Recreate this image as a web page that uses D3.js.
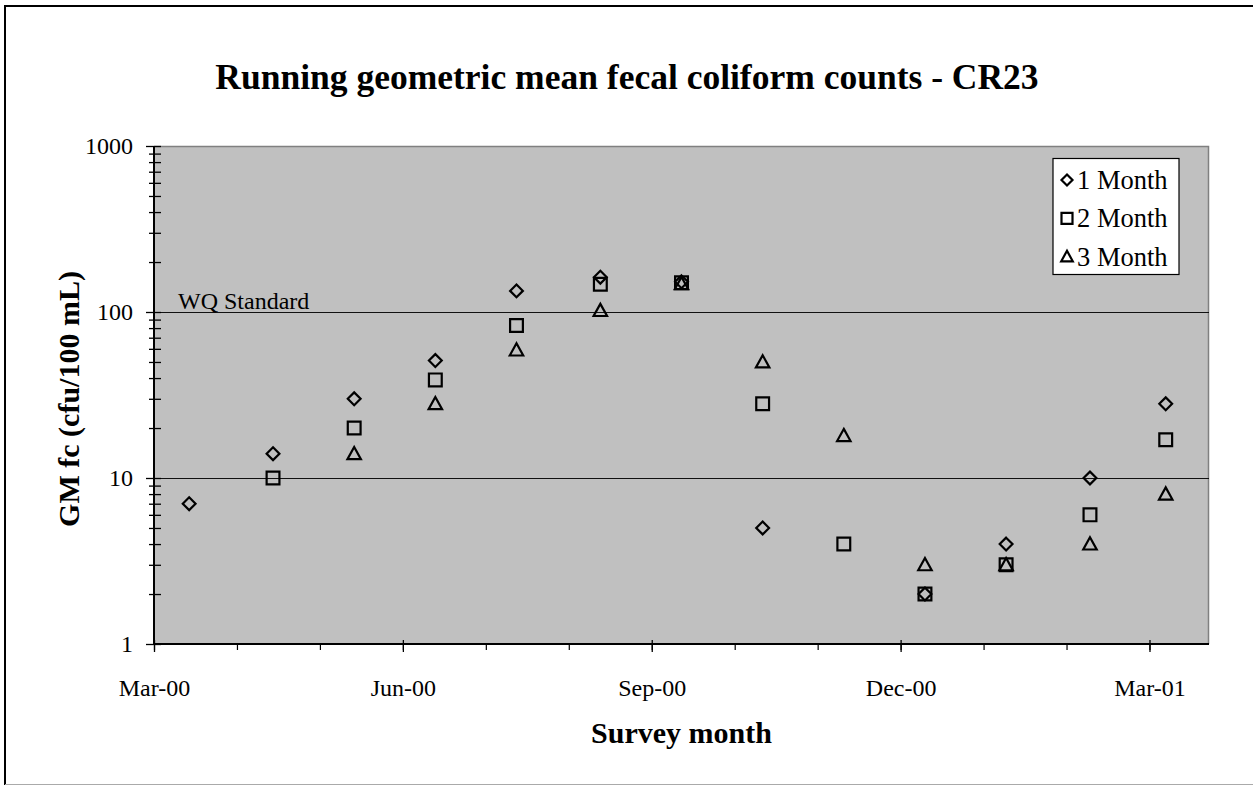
<!DOCTYPE html>
<html><head><meta charset="utf-8">
<script src="https://cdn.jsdelivr.net/npm/d3@7"></script>
<style>
html,body{margin:0;padding:0;background:#fff;}
svg text{font-family:"Liberation Serif","Times New Roman",serif;fill:#000;}
</style></head>
<body>
<svg id="chart" width="1254" height="786"></svg>
<script>
// ---- data ----
const sampleDates = ["2000-03-14","2000-04-14","2000-05-14","2000-06-13","2000-07-13","2000-08-13","2000-09-12","2000-10-12","2000-11-11","2000-12-11","2001-01-10","2001-02-10","2001-03-10"];
const oneMonth   = [7, 14, 30, 51, 134, 162, 152, 5, null, 2, 4, 10, 28];
const twoMonth   = [null, 10, 20, 39, 83, 147, 150, 28, 4, 2, 3, 6, 17];
const threeMonth = [null, null, 14, 28, 59, 102, 148, 50, 18, 3, 3, 4, 8];
const seriesNames = ["1 Month","2 Month","3 Month"];
const xTickLabels = ["Mar-00","Jun-00","Sep-00","Dec-00","Mar-01"];
const yTickValues = [1, 10, 100, 1000];
const gridValues = [10, 100];
const standardLabel = "WQ Standard";
const titleText = "Running geometric mean fecal coliform counts - CR23";
const xTitle = "Survey month";
const yTitle = "GM fc (cfu/100 mL)";

// ---- layout ----
const svg = d3.select("#chart");
const L = 154, R = 1209, T = 146, B = 644;
const parse = d3.utcParse("%Y-%m-%d");
const axisStart = parse("2000-03-01");
const majorDays = 92, minorDays = 92/3;
const addDays = (d, n) => new Date(d.getTime() + n*86400000);
const x = d3.scaleUtc().domain([axisStart, addDays(axisStart, 390)]).range([L, R]);
const y = d3.scaleLog().domain([1, 1000]).range([B, T]);

// chart border
svg.append("path").attr("d","M5,785 V6 H1253").attr("fill","none").attr("stroke","#000").attr("stroke-width",2);
svg.append("path").attr("d","M5,784.5 H1253").attr("fill","none").attr("stroke","#aaa").attr("stroke-width",1);

// plot area
svg.append("rect").attr("x",L).attr("y",T).attr("width",R-L).attr("height",B-T).attr("fill","#c0c0c0");
svg.append("path").attr("d",`M${L},${T+0.5} H${R-0.5} V${B}`).attr("fill","none").attr("stroke","#808080").attr("stroke-width",1.5);

// gridlines
svg.append("g").selectAll("line").data(gridValues).join("line")
  .attr("x1",L).attr("x2",R).attr("y1",d=>Math.round(y(d))+0.5).attr("y2",d=>Math.round(y(d))+0.5)
  .attr("stroke","#111").attr("stroke-width",1);

// WQ standard label
svg.append("text").attr("x",178).attr("y",y(100)-3).attr("font-size",24).text(standardLabel);

// y axis
const minorY = [];
[1,10,100].forEach(dec => { for (let k=2;k<=9;k++) minorY.push(dec*k); });
const yAxisG = svg.append("g").attr("transform",`translate(${L},0)`);
yAxisG.append("g").call(d3.axisLeft(y).tickValues(minorY).tickSize(5).tickFormat(""))
  .call(g=>g.select(".domain").remove())
  .call(g=>g.selectAll(".tick line").attr("x2",-5).attr("x1",7).attr("stroke","#000").attr("stroke-width",1.3));
yAxisG.append("g").call(d3.axisLeft(y).tickValues(yTickValues).tickSize(8).tickPadding(13).tickFormat(d3.format("d")))
  .call(g=>g.select(".domain").attr("stroke","#000").attr("stroke-width",2).attr("d",`M0,${B}V${T}`))
  .call(g=>g.selectAll(".tick line").attr("x1",7).attr("stroke","#000").attr("stroke-width",1.3))
  .call(g=>g.selectAll(".tick text").attr("font-family","Liberation Serif, serif").attr("font-size",24).attr("dy","0.33em"));

// x axis
const minorX = d3.range(0, 13).map(i => addDays(axisStart, i*minorDays));
const majorX = d3.range(0, xTickLabels.length).map(i => addDays(axisStart, i*majorDays));
const xAxisG = svg.append("g").attr("transform",`translate(0,${B})`);
xAxisG.append("g").call(d3.axisBottom(x).tickValues(minorX).tickSize(6).tickFormat(""))
  .call(g=>g.select(".domain").remove())
  .call(g=>g.selectAll(".tick line").attr("stroke","#000").attr("stroke-width",1.2));
xAxisG.append("g").call(d3.axisBottom(x).tickValues(majorX).tickSize(8).tickPadding(27)
    .tickFormat((d,i)=>xTickLabels[i]))
  .call(g=>g.select(".domain").attr("stroke","#000").attr("stroke-width",2).attr("d",`M${L},0H${R}`))
  .call(g=>g.selectAll(".tick line").attr("y1",-4).attr("stroke","#000").attr("stroke-width",1.3))
  .call(g=>g.selectAll(".tick text").attr("font-family","Liberation Serif, serif").attr("font-size",24));

// markers
const shapes = [
  s => `M0,${-s}L${s},0L0,${s}L${-s},0Z`,
  s => `M${-s},${-s}H${s}V${s}H${-s}Z`,
  s => `M0,${-s*1.05}L${s*1.05},${s*0.85}H${-s*1.05}Z`
];
const allSeries = [oneMonth, twoMonth, threeMonth];
allSeries.forEach((vals, si) => {
  const pts = sampleDates.map((d,i)=>({date:parse(d), v:vals[i]})).filter(p=>p.v!=null);
  svg.append("g").selectAll("path").data(pts).join("path")
    .attr("transform",p=>`translate(${x(p.date)},${y(p.v)})`)
    .attr("d",shapes[si](6.4))
    .attr("fill","none").attr("stroke","#000").attr("stroke-width",2.2).attr("stroke-linejoin","miter");
});

// legend
const lg = svg.append("g");
lg.append("rect").attr("x",1053).attr("y",158.5).attr("width",126).attr("height",116)
  .attr("fill","#fff").attr("stroke","#000").attr("stroke-width",1.2);
seriesNames.forEach((name, i) => {
  const cy = 180 + i*38.3;
  lg.append("path").attr("transform",`translate(1067,${cy})`).attr("d",shapes[i](5.5))
    .attr("fill","none").attr("stroke","#000").attr("stroke-width",2.2);
  lg.append("text").attr("x",1077).attr("y",cy+9).attr("font-size",26.5).text(name);
});

// titles
svg.append("text").attr("x",627).attr("y",89).attr("text-anchor","middle")
  .attr("font-size",35.5).attr("font-weight","bold").text(titleText);
svg.append("text").attr("x",(L+R)/2).attr("y",743).attr("text-anchor","middle")
  .attr("font-size",30).attr("font-weight","bold").text(xTitle);
svg.append("text").attr("transform",`translate(79,${(T+B)/2+4}) rotate(-90)`).attr("text-anchor","middle")
  .attr("font-size",30).attr("font-weight","bold").text(yTitle);
</script>
</body></html>
